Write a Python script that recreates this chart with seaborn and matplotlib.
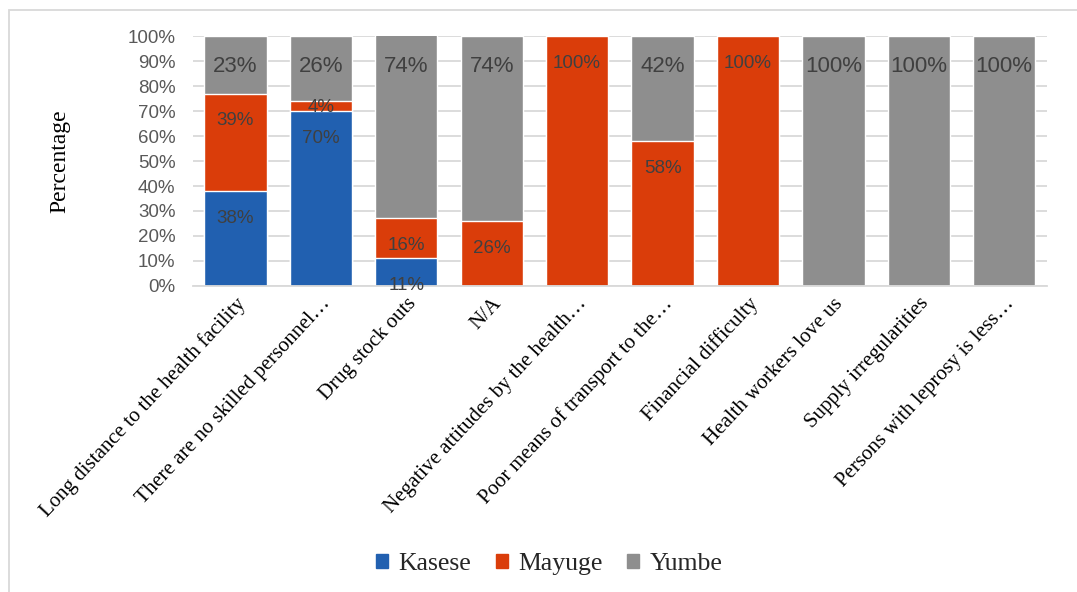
import matplotlib
matplotlib.use("Agg")
import matplotlib.pyplot as plt
import matplotlib.patches as mpatches
from matplotlib.ticker import PercentFormatter
import numpy as np
import pandas as pd
import seaborn as sns

categories = [
    "Long distance to the health facility",
    "There are no skilled personnel\u2026",
    "Drug stock outs",
    "N/A",
    "Negative attitudes by the health\u2026",
    "Poor means of transport to the\u2026",
    "Financial difficulty",
    "Health workers love us",
    "Supply irregularities",
    "Persons with leprosy is less\u2026",
]
kasese = [38, 70, 11, 0, 0, 0, 0, 0, 0, 0]
mayuge = [39, 4, 16, 26, 100, 58, 100, 0, 0, 0]
yumbe = [23, 26, 74, 74, 0, 42, 0, 100, 100, 100]

series_names = ["Kasese", "Mayuge", "Yumbe"]
colors = {"Kasese": "#2160B0", "Mayuge": "#DA3D0A", "Yumbe": "#8E8E8E"}

sns.set_theme(style="white")
plt.rcParams["font.family"] = ["Liberation Sans", "DejaVu Sans"]

fig = plt.figure(figsize=(10.77, 5.92), dpi=100)
ax = fig.add_axes([0.179, 0.517, 0.793, 0.422])

df = pd.DataFrame({"cat": categories, "Kasese": kasese, "Mayuge": mayuge, "Yumbe": yumbe})
k = np.array(kasese, dtype=float)
m = np.array(mayuge, dtype=float)
y = np.array(yumbe, dtype=float)
tops = {"Kasese": k, "Mayuge": k + m, "Yumbe": k + m + y}

# stacked bars drawn as overlapping cumulative totals, largest first
for name in ["Yumbe", "Mayuge", "Kasese"]:
    sns.barplot(x=df["cat"], y=tops[name], color=colors[name], width=0.73,
                saturation=1, ax=ax, zorder=2, errorbar=None)

ax.set_ylim(0, 100)
ax.set_xlim(-0.5, len(categories) - 0.5)
ax.yaxis.set_major_locator(plt.MultipleLocator(10))
ax.yaxis.set_major_formatter(PercentFormatter(decimals=0))
ax.grid(axis="y", color="#D9D9D9", linewidth=1.3, zorder=0)
ax.set_axisbelow(True)
for s in ["top", "right", "left"]:
    ax.spines[s].set_visible(False)
ax.spines["bottom"].set_color("#D9D9D9")
ax.spines["bottom"].set_linewidth(1.3)
ax.spines["bottom"].set_zorder(3)
ax.tick_params(axis="both", length=0)
ax.tick_params(axis="y", pad=12.5, labelsize=13.5, labelcolor="#595959")
ax.set_xlabel("")
ax.set_ylabel("Percentage", family="Liberation Serif", fontsize=17, color="black", labelpad=41)

ax.set_xticks(range(len(categories)))
ax.set_xticklabels(categories, rotation=47, ha="right", rotation_mode="anchor",
                   family="Liberation Serif", fontsize=15, color="black")
ax.tick_params(axis="x", pad=6)

# value labels placed inside the top end of each segment
label_size = {"Kasese": 13.5, "Mayuge": 13.5, "Yumbe": 16}
for name, vals in zip(series_names, [kasese, mayuge, yumbe]):
    for i, v in enumerate(vals):
        if v <= 0:
            continue
        top = min(tops[name][i], 100)
        if v <= 6:
            off = -4.5
        elif name == "Yumbe":
            off = -22
        else:
            off = -19.5
        ax.annotate(f"{v}%", xy=(i, top), xytext=(0, off), textcoords="offset points",
                    ha="center", va="center", fontsize=label_size[name], color="#404040",
                    family=["Liberation Sans Narrow", "Liberation Sans"], zorder=4)

handles = [mpatches.Patch(color=colors[n], label=n) for n in series_names]
fig.legend(handles=handles, loc="center", bbox_to_anchor=(0.51, 0.047), ncol=3, frameon=False,
           prop={"family": "Liberation Serif", "size": 18.5}, handlelength=0.47, handleheight=0.47,
           handletextpad=0.4, columnspacing=0.95)

fig.add_artist(mpatches.Rectangle((9 / 1077, -0.1), 1.2, 1 - 10 / 592 + 0.1,
                                  transform=fig.transFigure, fill=False,
                                  edgecolor="#D9D9D9", linewidth=1.3))

fig.savefig("out.png", dpi=100)
